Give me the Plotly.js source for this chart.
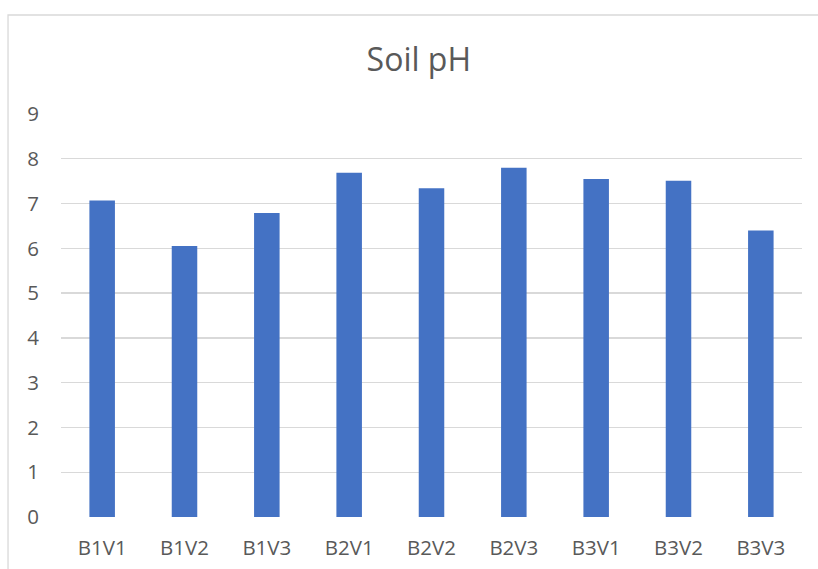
<!DOCTYPE html>
<html>
<head>
<meta charset="utf-8">
<script src="https://cdn.plot.ly/plotly-3.0.1.min.js"></script>
<style>
  html, body { margin: 0; padding: 0; background: #ffffff; }
  #chart { width: 818px; height: 569px; }
</style>
</head>
<body>
<div id="chart"></div>
<script>
const categories = ["B1V1", "B1V2", "B1V3", "B2V1", "B2V2", "B2V3", "B3V1", "B3V2", "B3V3"];
const soilPH = [7.07, 6.05, 6.79, 7.69, 7.34, 7.80, 7.55, 7.51, 6.40];
const yTicks = [0, 1, 2, 3, 4, 5, 6, 7, 8, 9];
const chartTitle = "Soil pH";

const trace = {
  type: "bar",
  x: categories,
  y: soilPH,
  marker: { color: "#4472C4" },
  hoverinfo: "x+y"
};

const layout = {
  width: 818,
  height: 569,
  margin: { l: 61, r: 16, t: 114, b: 52 },
  paper_bgcolor: "#ffffff",
  plot_bgcolor: "#ffffff",
  font: { family: "Open Sans, sans-serif", color: "#595959", size: 20 },
  title: {
    text: chartTitle,
    font: { family: "Open Sans, sans-serif", size: 32, color: "#595959" },
    x: 0.512,
    xanchor: "center",
    y: 0.895,
    yanchor: "middle"
  },
  bargap: 0.69,
  showlegend: false,
  xaxis: {
    type: "category",
    showgrid: false,
    zeroline: false,
    showline: false,
    ticks: "",
    ticklabelstandoff: 16,
    tickfont: { size: 20.5, color: "#595959" }
  },
  yaxis: {
    range: [0, 9],
    tickvals: yTicks,
    showgrid: true,
    gridcolor: "#D9D9D9",
    gridwidth: 1.3,
    zeroline: false,
    showline: false,
    ticks: "",
    ticklabelstandoff: 21,
    tickfont: { size: 20.5, color: "#595959" },
    fixedrange: true
  },
  shapes: [
    {
      type: "rect",
      xref: "paper",
      yref: "paper",
      x0: -0.0715,
      x1: 1.1,
      y0: -0.2,
      y1: 1.2457,
      line: { color: "#D9D9D9", width: 1.3 },
      fillcolor: "rgba(0,0,0,0)",
      layer: "below"
    }
  ]
};

Plotly.newPlot("chart", [trace], layout, { displayModeBar: false, staticPlot: true });
</script>
</body>
</html>
